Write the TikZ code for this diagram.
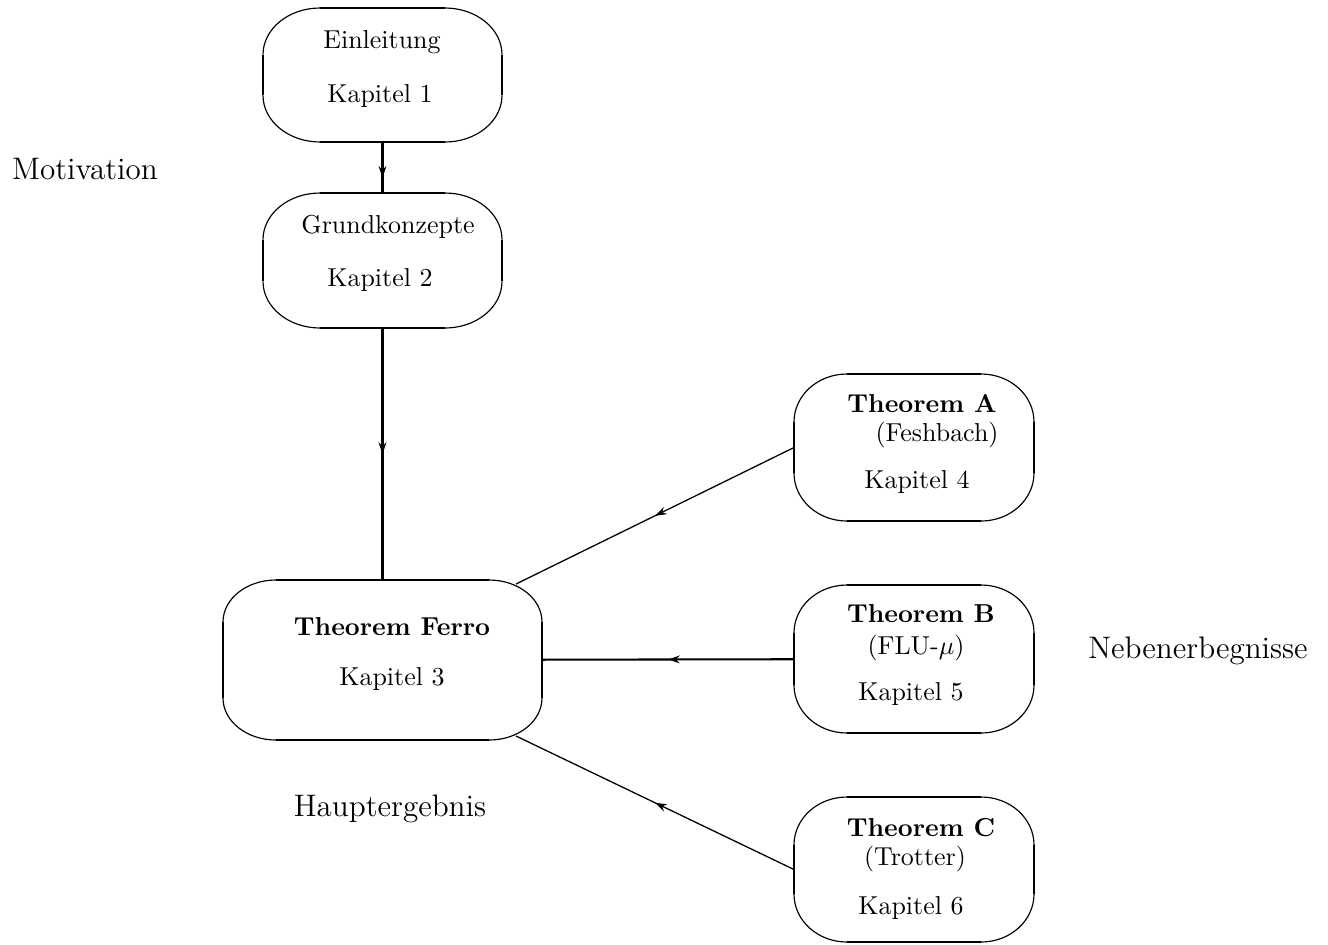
\documentclass[tikz,border=0pt]{standalone}
\usetikzlibrary{decorations.markings,arrows.meta}
\newcommand\rbox[3]{% #1 node name, #2 x radius, #3 y radius
  \draw[arcline] ([xshift=-#2]#1.north east) arc[start angle=90,end angle=0,x radius=#2,y radius=#3];
  \draw[arcline] ([yshift=#3]#1.south east) arc[start angle=0,end angle=-90,x radius=#2,y radius=#3];
  \draw[arcline] ([xshift=#2]#1.south west) arc[start angle=270,end angle=180,x radius=#2,y radius=#3];
  \draw[arcline] ([yshift=-#3]#1.north west) arc[start angle=180,end angle=90,x radius=#2,y radius=#3];
  \draw[sideline] ([xshift=#2]#1.north west) -- ([xshift=-#2]#1.north east);
  \draw[sideline] ([xshift=#2]#1.south west) -- ([xshift=-#2]#1.south east);
  \draw[sideline] ([yshift=-#3]#1.north west) -- ([yshift=#3]#1.south west);
  \draw[sideline] ([yshift=-#3]#1.north east) -- ([yshift=#3]#1.south east);
}
\begin{document}
\begin{tikzpicture}[x=0.3857pt,y=-0.3857pt,
  box/.style={inner sep=0pt,outer sep=0pt},
  arcline/.style={line width=0.45pt},
  sideline/.style={line width=0.75pt},
  txt/.style={inner sep=0pt,font=\normalsize},
  outer/.style={inner sep=0pt,font=\large},
  conn/.style={line width=0.8pt},
  thinconn/.style={line width=0.5pt},
  midarrow/.style={postaction={decorate},decoration={markings,
    mark=at position #1 with {\arrow{Stealth[length=4.5pt,width=3pt]}}}}]
\useasboundingbox (0,0) rectangle (1328,944);

% boxes
\node[box,minimum width={239*0.3857pt},minimum height={134*0.3857pt}] (b1) at (382.5,75) {};
\node[box,minimum width={239*0.3857pt},minimum height={135*0.3857pt}] (b2) at (382.5,260.5) {};
\node[box,minimum width={319*0.3857pt},minimum height={160*0.3857pt}] (b3) at (382.5,660) {};
\node[box,minimum width={240*0.3857pt},minimum height={147*0.3857pt}] (bA) at (914,447.5) {};
\node[box,minimum width={240*0.3857pt},minimum height={148*0.3857pt}] (bB) at (914,659) {};
\node[box,minimum width={240*0.3857pt},minimum height={145*0.3857pt}] (bC) at (914,869.5) {};
\rbox{b1}{22pt}{18pt}
\rbox{b2}{22pt}{18pt}
\rbox{b3}{20.4pt}{16.2pt}
\rbox{bA}{20.4pt}{18.5pt}
\rbox{bB}{20.4pt}{18.5pt}
\rbox{bC}{20.4pt}{18.5pt}

% texts in boxes
\node[txt] (t1a) at (382,42) {Einleitung};
\node[txt] (t1b) at (380,96) {Kapitel 1};
\node[txt] (t2a) at (388,227) {Grundkonzepte};
\node[txt] (t2b) at (380,280) {Kapitel 2};
\node[txt] (t3a) at (392,627) {\textbf{Theorem Ferro}};
\node[txt] (t3b) at (392,679) {Kapitel 3};
\node[txt] (tAa) at (922,404) {\textbf{Theorem A}};
\node[txt] (tAb) at (937,435) {(Feshbach)};
\node[txt] (tAc) at (917,482) {Kapitel 4};
\node[txt] (tBa) at (921,614) {\textbf{Theorem B}};
\node[txt] (tBb) at (916,648) {(FLU-$\mu$)};
\node[txt] (tBc) at (911,694) {Kapitel 5};
\node[txt] (tCa) at (921,828) {\textbf{Theorem C}};
\node[txt] (tCb) at (915,859) {(Trotter)};
\node[txt] (tCc) at (911,908) {Kapitel 6};

% outer labels
\node[outer] (motiv) at (85,169) {Motivation};
\node[outer] (neben) at (1198,651) {Nebenerbegnisse};
\node[outer] (haupt) at (390,809) {Hauptergebnis};

% attachment points on the rounded corners of the main box
\coordinate (b3ne) at (516,584);
\coordinate (b3se) at (516,736);

% connectors
\draw[conn,midarrow=0.7] (b1) -- (b2);
\draw[conn,midarrow=0.5] (b2) -- (b3);
\draw[thinconn,midarrow=0.5] (bA.west) -- (b3ne);
\draw[conn,midarrow=0.5] (bB) -- (b3);
\draw[thinconn,midarrow=0.5] (bC.west) -- (b3se);
\end{tikzpicture}
\end{document}
